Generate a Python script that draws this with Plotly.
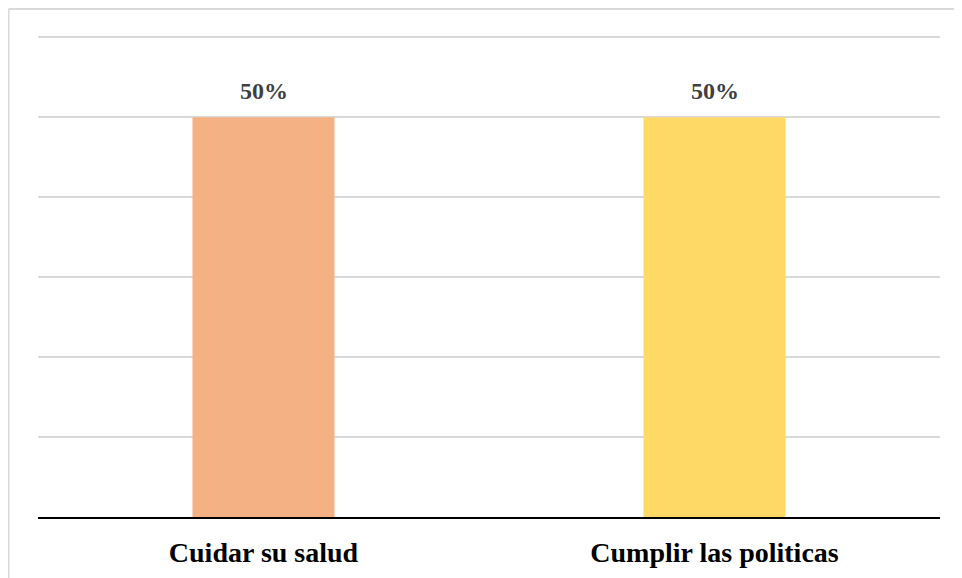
import plotly.graph_objects as go

categorias = ["Cuidar su salud", "Cumplir las politicas"]
valores = [0.50, 0.50]
colores = ["#F4B183", "#FFD966"]

fig = go.Figure()
fig.add_bar(
    x=categorias,
    y=valores,
    marker=dict(color=colores, line_width=0),
    width=0.315,
    hoverinfo="skip",
)

# Etiquetas de porcentaje sobre cada barra
for cat, val in zip(categorias, valores):
    fig.add_annotation(
        x=cat, y=val, text=f"<b>{val:.0%}</b>",
        showarrow=False, yanchor="bottom", yshift=11,
        font=dict(family="Liberation Serif", size=24, color="#404040"),
    )

# Marco del gráfico (recortado a la derecha y abajo)
fig.add_shape(type="line", xref="paper", yref="paper",
              x0=-0.0327, x1=1.05, y0=1.0539, y1=1.0539,
              line=dict(color="#d9d9d9", width=2))
fig.add_shape(type="line", xref="paper", yref="paper",
              x0=-0.0327, x1=-0.0327, y0=-0.2, y1=1.0539,
              line=dict(color="#d9d9d9", width=2))

fig.update_layout(
    width=962, height=578,
    margin=dict(l=30, r=30, t=27, b=69),
    plot_bgcolor="white", paper_bgcolor="white",
    showlegend=False,
    font=dict(family="Liberation Serif", color="black"),
)
fig.update_xaxes(
    showline=True, linecolor="black", linewidth=1.5,
    tickfont=dict(family="Liberation Serif", size=28, color="black", weight="bold"),
    ticks="", ticklabelstandoff=10,
)
fig.update_yaxes(
    range=[0, 0.603], tick0=0, dtick=0.1, showticklabels=False,
    showgrid=True, gridcolor="#d9d9d9", gridwidth=2, zeroline=False,
)

fig.write_html("out.html")
